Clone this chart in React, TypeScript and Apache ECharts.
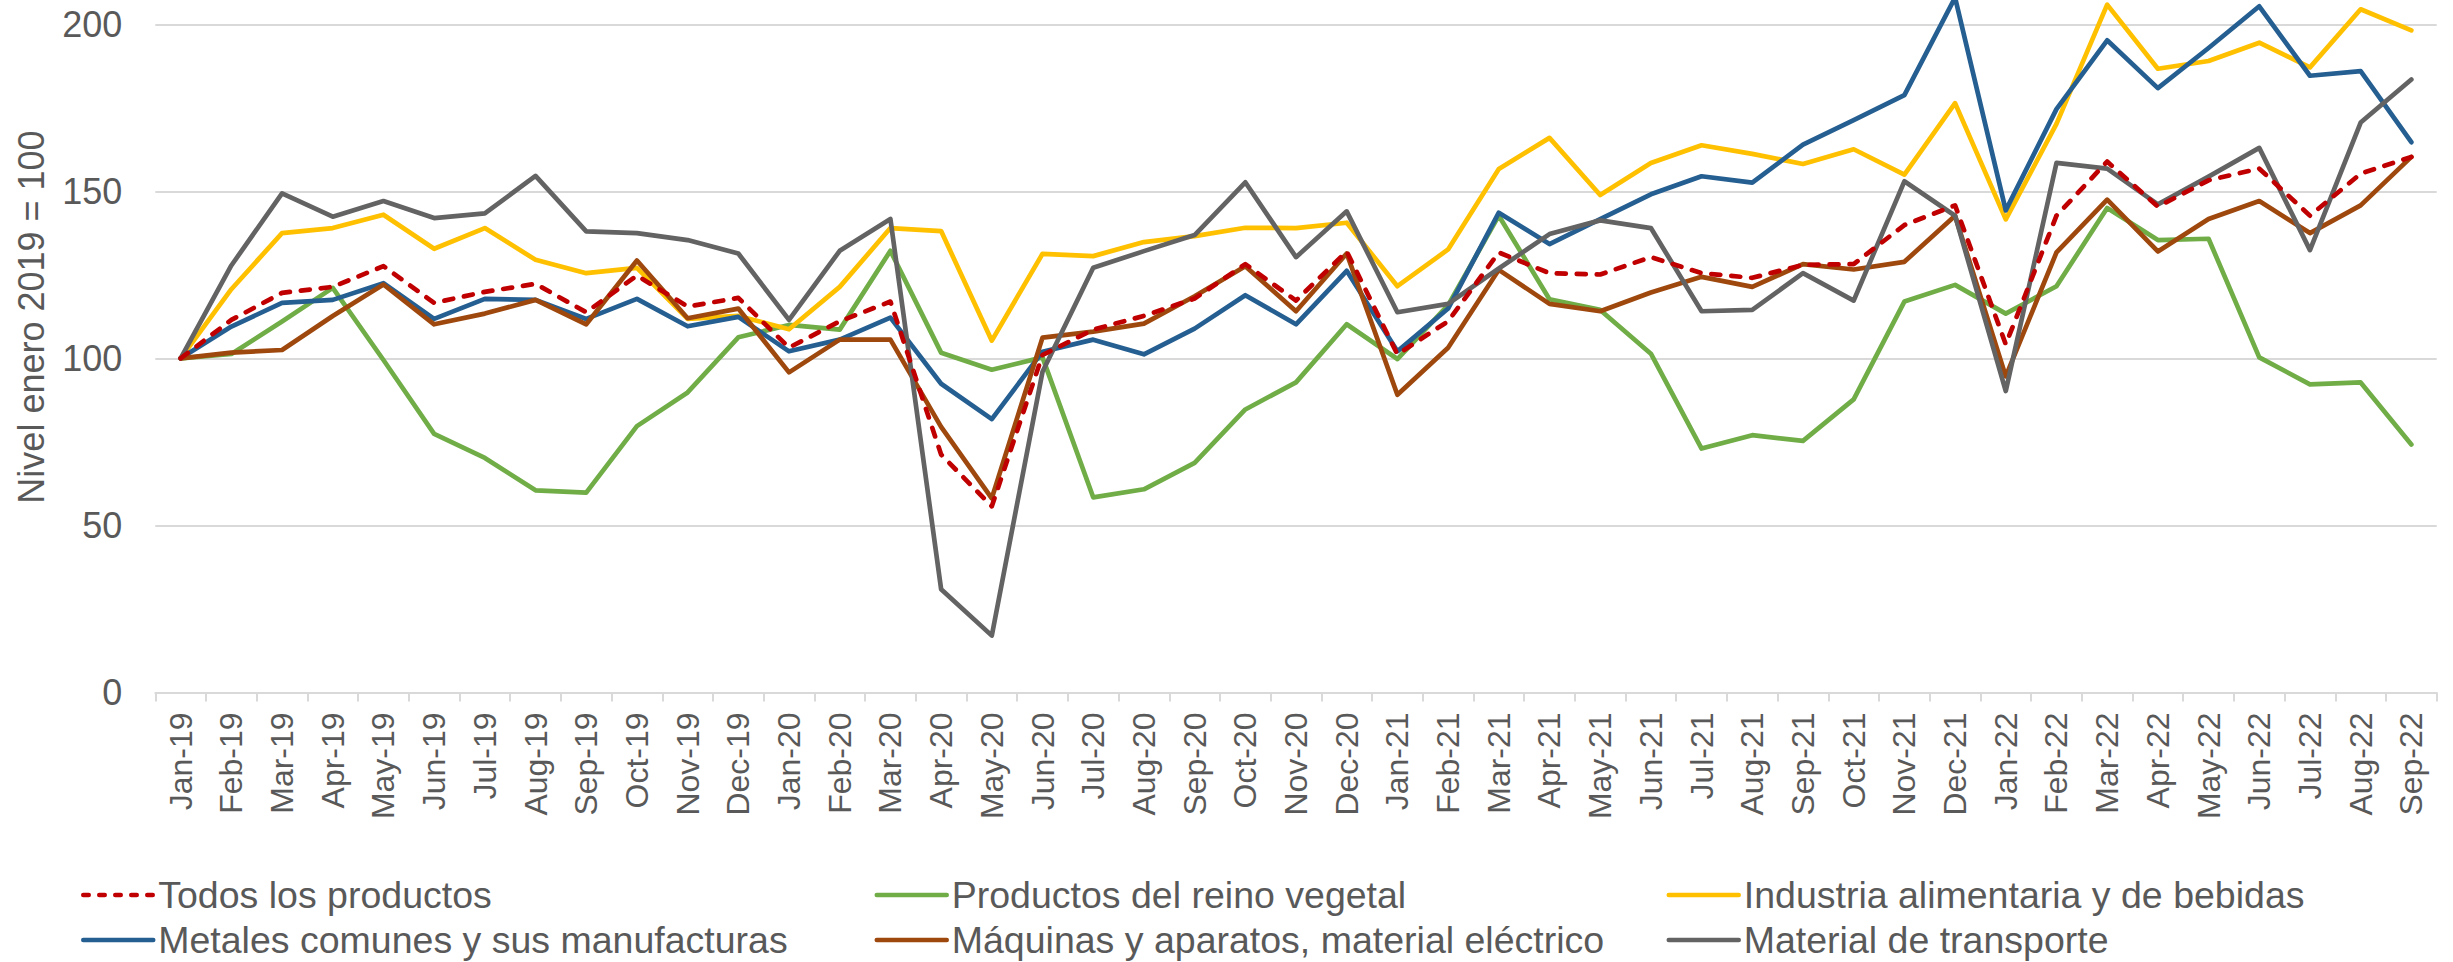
import React, { useEffect, useRef } from "react";
import * as echarts from "echarts";

const categories = [
  "Jan-19", "Feb-19", "Mar-19", "Apr-19", "May-19", "Jun-19", "Jul-19", "Aug-19", "Sep-19", "Oct-19", "Nov-19", "Dec-19",
  "Jan-20", "Feb-20", "Mar-20", "Apr-20", "May-20", "Jun-20", "Jul-20", "Aug-20", "Sep-20", "Oct-20", "Nov-20", "Dec-20",
  "Jan-21", "Feb-21", "Mar-21", "Apr-21", "May-21", "Jun-21", "Jul-21", "Aug-21", "Sep-21", "Oct-21", "Nov-21", "Dec-21",
  "Jan-22", "Feb-22", "Mar-22", "Apr-22", "May-22", "Jun-22", "Jul-22", "Aug-22", "Sep-22",
];

const todos = [
  100, 111.5, 119.6, 121.4, 127.6, 116.6, 119.9, 122.3, 113.8, 124.8, 115.5, 118.1,
  103.2, 111.1, 117, 71.2, 55.7, 101, 108.6, 112.7, 117.9, 128.2, 117.3, 132,
  101.2, 111.1, 131.7, 125.5, 125.1, 130.3, 125.5, 124.1, 128, 128.2, 139.9, 145.8,
  104.2, 142.7, 158.9, 145.4, 153.3, 156.8, 142.7, 155.3, 160.3,
];

const vegetal = [
  100, 101.3, 111, 121.1, 99.5, 77.4, 70.2, 60.5, 59.8, 79.7, 89.8, 106.3,
  110, 108.6, 132.2, 101.7, 96.6, 100.3, 58.4, 60.8, 68.7, 84.7, 92.8, 110.2,
  99.8, 115.9, 142.7, 117.7, 114.5, 101.4, 73, 77, 75.3, 87.7, 117, 122,
  113.4, 121.6, 145, 135.4, 135.8, 100.3, 92.2, 92.8, 74.2,
];

const alimentaria = [
  100, 120.7, 137.5, 139, 143, 132.8, 139, 129.5, 125.5, 127.1, 111.8, 112.7,
  108.7, 121.4, 139, 138.1, 105.3, 131.3, 130.6, 134.8, 136.6, 139.1, 139, 140.6,
  121.6, 132.6, 156.7, 166, 148.9, 158.5, 163.8, 161.2, 158.2, 162.6, 155, 176.4,
  141.6, 170.2, 205.9, 186.7, 189, 194.5, 187.1, 204.5, 198.2,
];

const metales = [
  100, 109.5, 116.6, 117.5, 122.5, 111.8, 117.8, 117.5, 111.8, 117.8, 109.6, 112.4,
  102.1, 105.6, 112.2, 92.4, 81.8, 102, 105.6, 101.2, 108.9, 118.9, 110.2, 126.2,
  102.1, 114.9, 143.6, 134.2, 141.7, 149.1, 154.5, 152.6, 164, 171.3, 178.8, 208,
  144.3, 174.6, 195.2, 180.9, 192.9, 205.4, 184.6, 186, 164.7,
];

const maquinas = [
  100, 101.7, 102.5, 112.7, 122.1, 110.2, 113.4, 117.5, 110.2, 129.3, 112, 114.9,
  95.8, 105.6, 105.6, 79.5, 58.1, 106.2, 108, 110.4, 118.6, 127.6, 114.1, 131.4,
  89.1, 103.2, 126.5, 116.3, 114.1, 119.7, 124.4, 121.4, 128.2, 126.6, 128.9, 142.7,
  94.6, 131.7, 147.5, 132, 141.7, 147.1, 137.5, 145.8, 160.3,
];

const transporte = [
  100, 127.8, 149.4, 142.4, 147.1, 142, 143.4, 154.6, 138, 137.5, 135.4, 131.4,
  111.5, 132.2, 141.7, 30.9, 17, 96, 127.1, 132.1, 136.9, 152.7, 130.3, 144,
  113.8, 116.3, 126.9, 137.2, 141.3, 139, 114.1, 114.5, 125.5, 117.3, 153, 142.7,
  90.2, 158.5, 156.8, 146.1, 154.4, 163, 132.4, 170.6, 183.5,
];

const yTicks = [0, 50, 100, 150, 200];

const names = {
  todos: "Todos los productos",
  vegetal: "Productos del reino vegetal",
  alimentaria: "Industria alimentaria y de bebidas",
  metales: "Metales comunes y sus manufacturas",
  maquinas: "Máquinas y aparatos, material eléctrico",
  transporte: "Material de transporte",
};

const FONT = "'Liberation Sans', Arial, sans-serif";
const TEXT = "#595959";
const GRIDC = "#D9D9D9";

export default function App() {
  const ref = useRef<HTMLDivElement>(null);

  useEffect(() => {
    if (!ref.current) return;
    const chart = echarts.init(ref.current, undefined, { renderer: "svg" });

    const mk = (name: string, data: number[], color: string, dashed = false) => ({
      name,
      type: "line",
      data,
      symbol: "none",
      showSymbol: false,
      clip: false,
      color,
      itemStyle: { color },
      lineStyle: {
        color,
        width: 4.7,
        type: dashed ? [9, 11] : "solid",
        cap: "round",
        join: "round",
      },
      emphasis: { disabled: true },
    });

    const legendText = { fontSize: 37.5, color: TEXT, fontFamily: FONT, lineHeight: 38 };
    const lg = (name: string, left: number, top: number, dashed = false) => ({
      left,
      top,
      padding: 0,
      orient: "horizontal",
      itemWidth: 70,
      itemHeight: 14,
      textStyle: legendText,
      selectedMode: false,
      itemStyle: { opacity: 0, borderWidth: 0 },
      lineStyle: dashed ? { type: [5.5, 10.5], width: 4.5, cap: "round" } : { width: 4.5, cap: "round" },
      data: [{ name }],
    });

    chart.setOption({
      animation: false,
      backgroundColor: "#ffffff",
      grid: { left: 155.3, right: 16.3, top: 24.3, bottom: 269.6, containLabel: false },
      xAxis: {
        type: "category",
        data: categories,
        boundaryGap: true,
        axisLine: { show: true, lineStyle: { color: GRIDC, width: 2 } },
        axisTick: { show: true, length: 9, interval: 0, lineStyle: { color: GRIDC, width: 2 } },
        axisLabel: {
          interval: 0,
          rotate: 90,
          margin: 20,
          fontSize: 32,
          color: TEXT,
          fontFamily: FONT,
        },
        splitLine: { show: false },
      },
      yAxis: {
        type: "value",
        min: yTicks[0],
        max: yTicks[yTicks.length - 1],
        interval: 50,
        axisLine: { show: false },
        axisTick: { show: false },
        axisLabel: { fontSize: 36, color: TEXT, fontFamily: FONT, margin: 33 },
        splitLine: { show: true, lineStyle: { color: GRIDC, width: 2 } },
      },
      legend: [
        lg(names.todos, 81, 876, true),
        lg(names.vegetal, 874.5, 876),
        lg(names.alimentaria, 1666.5, 876),
        lg(names.metales, 81, 921),
        lg(names.maquinas, 874.5, 921),
        lg(names.transporte, 1666.5, 921),
      ],
      graphic: [
        {
          type: "text",
          x: 31,
          y: 317,
          rotation: Math.PI / 2,
          style: {
            text: "Nivel enero 2019 = 100",
            fontSize: 36,
            fontFamily: FONT,
            fill: TEXT,
            align: "center",
            verticalAlign: "middle",
          },
        },
      ],
      series: [
        mk(names.vegetal, vegetal, "#70AD47"),
        mk(names.alimentaria, alimentaria, "#FFC000"),
        mk(names.metales, metales, "#255E91"),
        mk(names.maquinas, maquinas, "#9E480E"),
        mk(names.transporte, transporte, "#636363"),
        mk(names.todos, todos, "#C00000", true),
      ],
    });

    return () => chart.dispose();
  }, []);

  return (
    <div
      ref={ref}
      style={{ position: "fixed", left: 0, top: 0, width: 2453, height: 962, background: "#fff" }}
    />
  );
}
